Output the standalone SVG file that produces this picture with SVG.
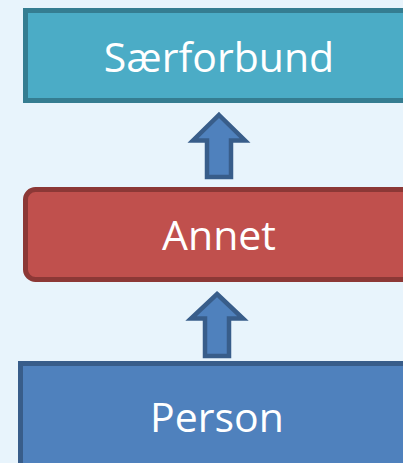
<svg xmlns="http://www.w3.org/2000/svg" width="403" height="463" viewBox="0 0 403 463">
<style>
.lbl{font-family:"Open Sans","Noto Sans","Liberation Sans",sans-serif;font-size:41px;fill:#ffffff;text-anchor:middle}
.arrow{fill:#4f81bd;stroke:#385d8a;stroke-width:4.5;stroke-linejoin:miter}
</style>
<rect x="0" y="0" width="403" height="463" fill="#e8f4fc"/>
<g id="saerforbund">
<rect x="25.5" y="10.5" width="400" height="90" fill="#4bacc6" stroke="#357d91" stroke-width="5"/>
<text class="lbl" x="219" y="72">Særforbund</text>
</g>
<g id="annet">
<rect x="25.5" y="189.5" width="400" height="90" rx="10" fill="#c0504d" stroke="#8c3836" stroke-width="5"/>
<text class="lbl" x="219" y="250">Annet</text>
</g>
<g id="person">
<rect x="20.5" y="363.5" width="400" height="120" fill="#4f81bd" stroke="#385d8a" stroke-width="5"/>
<text class="lbl" x="217" y="432">Person</text>
</g>
<g id="connectors">
<path class="arrow" d="M219,115 L245,140.5 L231,140.5 L231,177 L207,177 L207,140.5 L193,140.5 Z"/>
<path class="arrow" d="M217,294 L243,318.5 L229,318.5 L229,356 L205,356 L205,318.5 L191,318.5 Z"/>
</g>
</svg>
